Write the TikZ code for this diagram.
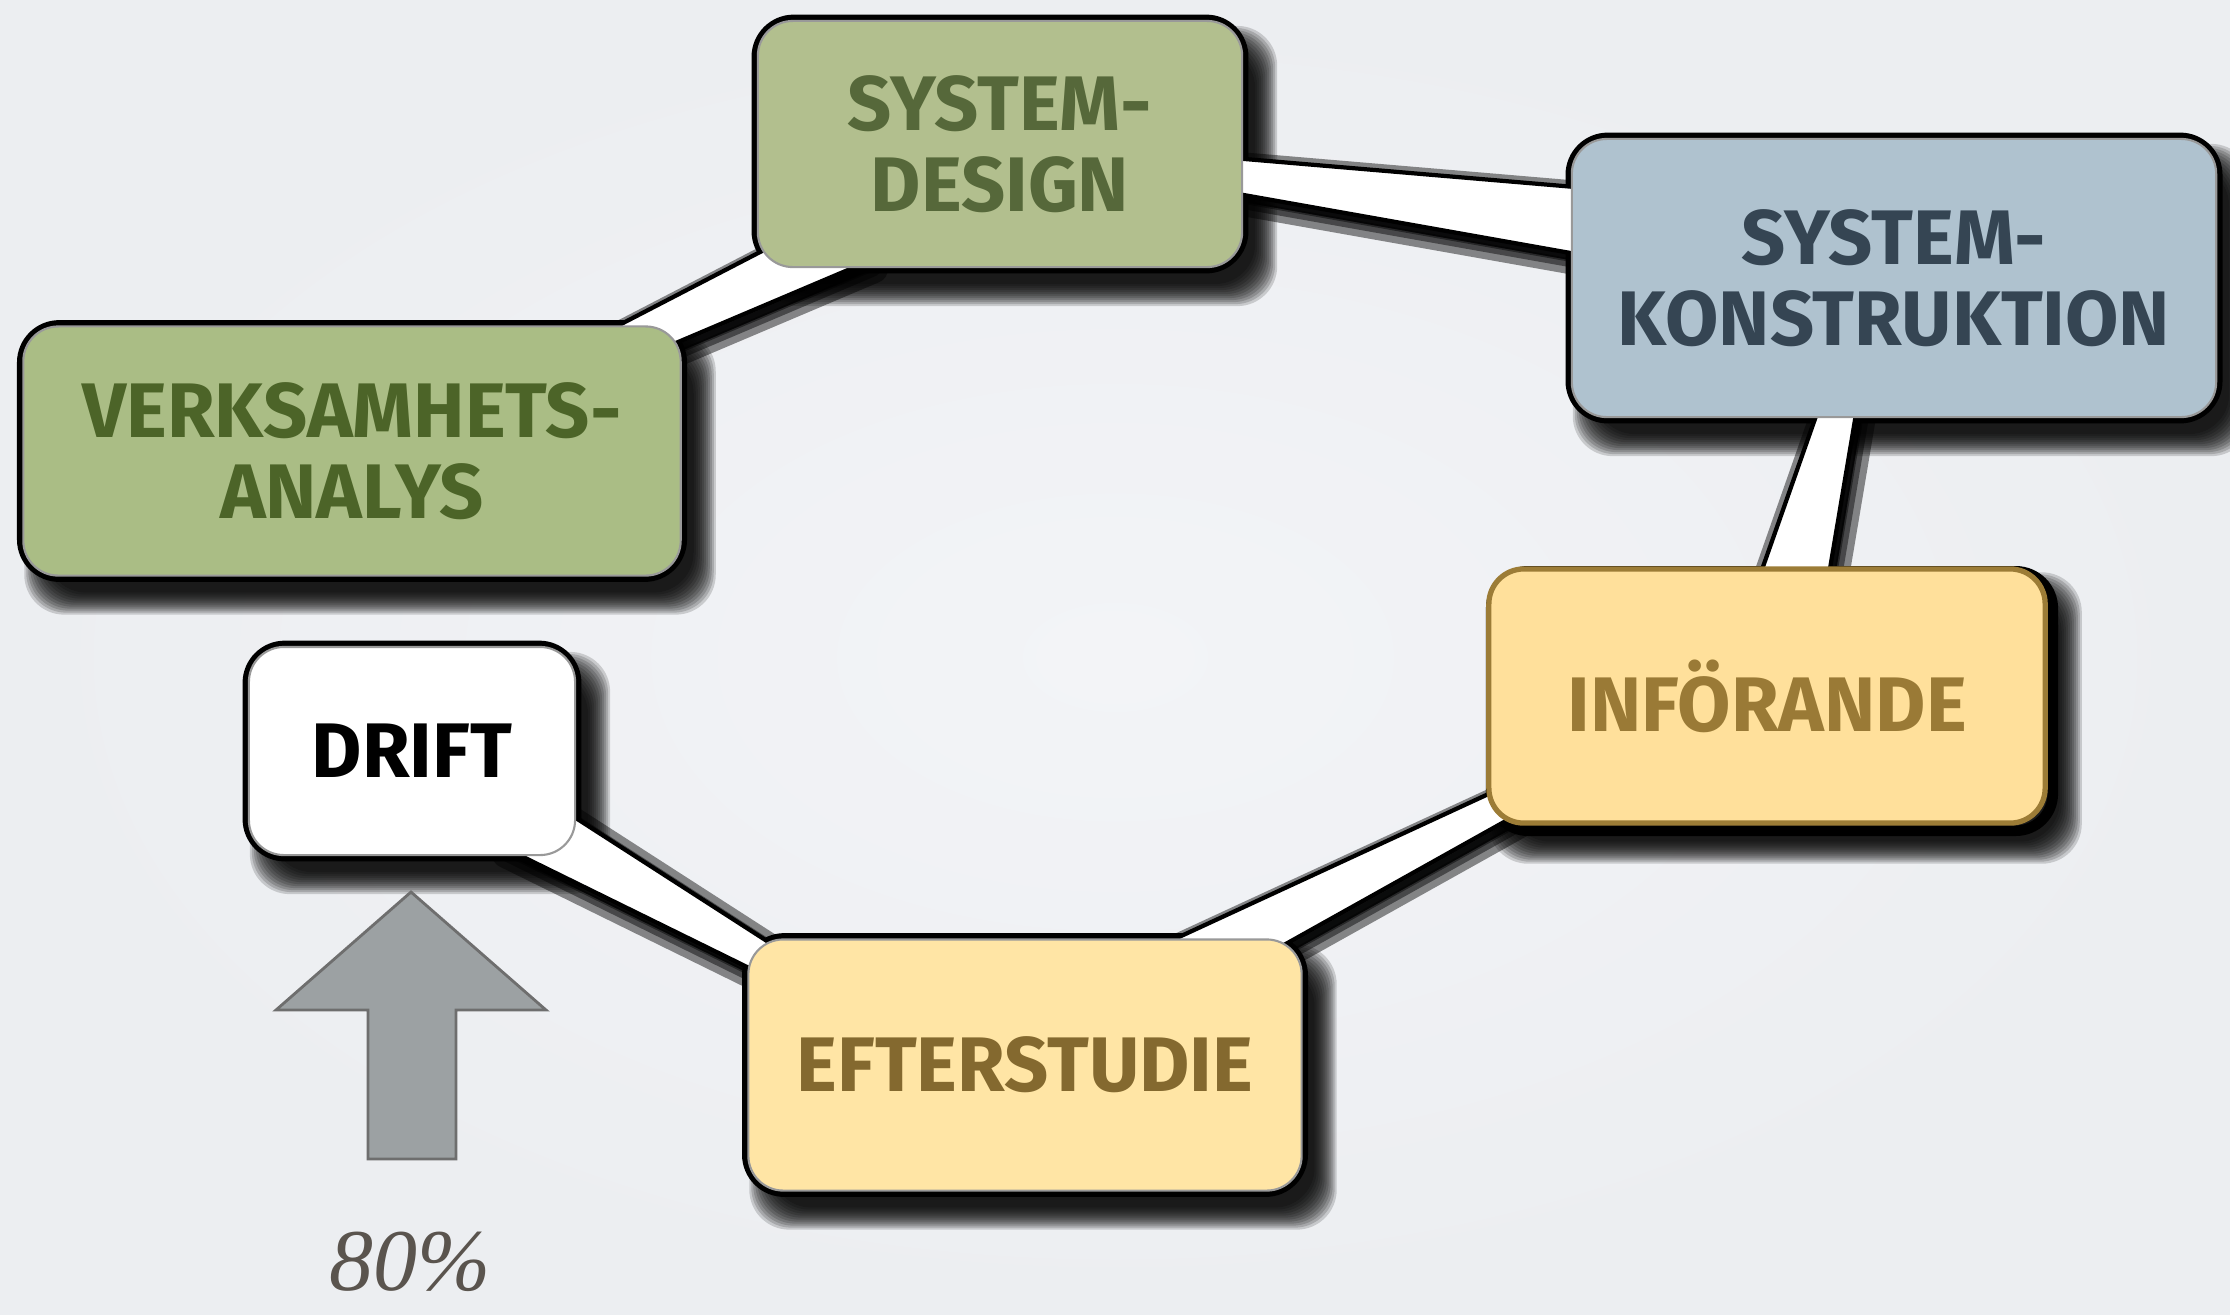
\documentclass[tikz,border=0pt]{standalone}
\usepackage{fontspec}
\setmainfont{Fira Sans}
\newfontfamily\handfont{Liberation Serif}
\usetikzlibrary{calc}

\definecolor{paper}{HTML}{ECEEF1}
\definecolor{paperlight}{HTML}{F3F4F7}
\definecolor{sdfill}{HTML}{B2BF8E}
\definecolor{sdtext}{HTML}{56683A}
\definecolor{vafill}{HTML}{AABD85}
\definecolor{vatext}{HTML}{4C6428}
\definecolor{skfill}{HTML}{AFC2CF}
\definecolor{sktext}{HTML}{354553}
\definecolor{inffill}{HTML}{FFE09B}
\definecolor{inftext}{HTML}{9A7A36}
\definecolor{infedge}{HTML}{9C7C36}
\definecolor{effill}{HTML}{FFE5A5}
\definecolor{eftext}{HTML}{84692F}
\definecolor{arrowfill}{HTML}{9CA1A3}
\definecolor{arrowedge}{HTML}{6E6E6E}
\definecolor{pcttext}{HTML}{5A544E}

\pgfdeclarelayer{paper}
\pgfdeclarelayer{boxshadow}
\pgfdeclarelayer{tails}
\pgfsetlayers{paper,boxshadow,tails,main}

\begin{document}
\begin{tikzpicture}%
        [x=0.01cm, y=-0.01cm,
        phase/.style={rounded corners=0.35cm, draw=gray!80, line width=0.6pt, align=center,
                      inner sep=0pt, font=\fontsize{22}{23}\selectfont\bfseries},
        shadowstep/.style={fill=black, opacity=0.16, rounded corners=0.4cm},
        outline/.style={draw=black, line width=3pt, rounded corners=0.37cm},
        tailshade/.style={draw=black, fill=black, line join=round, opacity=0.45},
        tail/.style={fill=white, draw=black, line width=1.2pt, line join=round}]

    %% Background and bounding box
    \begin{pgfonlayer}{paper}
    \shade[inner color=paperlight, outer color=paper] (0,0) rectangle (2230,1314);
    \end{pgfonlayer}
    \useasboundingbox (0,0) rectangle (2230,1314);

    %%
    %% The phases
    %%
    \node[phase, fill=vafill, text=vatext, minimum width=6.57cm, minimum height=2.49cm]
        (va) at (352,451) {VERKSAMHETS-\\ANALYS};
    \node[phase, fill=sdfill, text=sdtext, minimum width=4.84cm, minimum height=2.46cm]
        (sd) at (1000,144) {SYSTEM-\\DESIGN};
    \node[phase, fill=skfill, text=sktext, minimum width=6.44cm, minimum height=2.78cm]
        (sk) at (1894,278) {SYSTEM-\\KONSTRUKTION};
    \node[phase, fill=inffill, text=inftext, draw=infedge, line width=1.5pt,
          minimum width=5.56cm, minimum height=2.54cm]
        (inf) at (1767,696) {INFÖRANDE};
    \node[phase, fill=effill, text=eftext, minimum width=5.53cm, minimum height=2.51cm]
        (ef) at (1025,1065) {EFTERSTUDIE};
    \node[phase, fill=white, text=black, minimum width=3.26cm, minimum height=2.08cm]
        (drift) at (412,751) {DRIFT};

    %%
    %% Shadows and black outlines of the phases
    %%
    \begin{pgfonlayer}{boxshadow}
    \foreach \n in {va,sd,sk,inf,ef,drift} {
        \foreach \e in {-6,-4,...,16} {
            \fill[shadowstep] ([shift={(18-\e,22+\e)}]\n.south west)
                rectangle ([shift={(18+\e,22-\e)}]\n.north east);
        }
    }
    \draw[outline] (va.south west) rectangle (va.north east);
    \draw[outline] (sd.south west) rectangle (sd.north east);
    \draw[outline] (sk.south west) rectangle (sk.north east);
    \draw[outline] ([shift={(5,5)}]inf.south west) rectangle ([shift={(5,5)}]inf.north east);
    \draw[outline] (ef.south west) rectangle (ef.north east);
    \draw[outline] (drift.south west) rectangle (drift.north east);
    \end{pgfonlayer}

    %%
    %% The tails between the phases
    %%
    \coordinate (t1a) at ($(va.north east)+(-71,4)$);
    \coordinate (t1b) at ($(sd.south west)+(32,-31)$);
    \coordinate (t1c) at ($(sd.south west)+(112,-7)$);
    \coordinate (t1d) at ($(va.north east)+(-21,24)$);
    \coordinate (t2a) at ($(sd.east)+(-22,13)$);
    \coordinate (t2b) at ($(sk.west)+(28,-89)$);
    \coordinate (t2c) at ($(sk.west)+(28,-20)$);
    \coordinate (t2d) at ($(sd.east)+(-22,47)$);
    \coordinate (t3a) at ($(sk.south)+(-71,-22)$);
    \coordinate (t3b) at ($(inf.north)+(-13,26)$);
    \coordinate (t3c) at ($(inf.north)+(59,26)$);
    \coordinate (t3d) at ($(sk.south)+(-35,-22)$);
    \coordinate (t4a) at ($(inf.west)+(26,87)$);
    \coordinate (t4b) at ($(ef.north)+(125,12)$);
    \coordinate (t4c) at ($(ef.north)+(235,20)$);
    \coordinate (t4d) at ($(inf.west)+(41,113)$);
    \coordinate (t5a) at ($(drift.south east)+(-25,-54)$);
    \coordinate (t5b) at ($(ef.north west)+(42,17)$);
    \coordinate (t5c) at ($(ef.north west)+(27,42)$);
    \coordinate (t5d) at ($(drift.south east)+(-75,-10)$);
    \begin{pgfonlayer}{tails}
    \foreach \t in {1,...,5} {
        \foreach \w in {1,4,8} {
            \filldraw[tailshade, line width=\w pt, transform canvas={shift={(0.05cm,-0.08cm)}}]
                (t\t a) -- (t\t b) -- (t\t c) -- (t\t d) -- cycle;
        }
        \draw[tail] (t\t a) -- (t\t b) -- (t\t c) -- (t\t d) -- cycle;
    }
    \end{pgfonlayer}

    %%
    %% The arrow and the share
    %%
    \filldraw[fill=arrowfill, draw=arrowedge, line width=0.8pt]
        (411,892) -- (546,1010) -- (456,1010) -- (456,1159)
        -- (368,1159) -- (368,1010) -- (276,1010) -- cycle;
    \node[text=pcttext, font=\handfont\itshape\fontsize{25}{28}\selectfont] (pct) at (410,1262) {80\%};
\end{tikzpicture}
\end{document}
